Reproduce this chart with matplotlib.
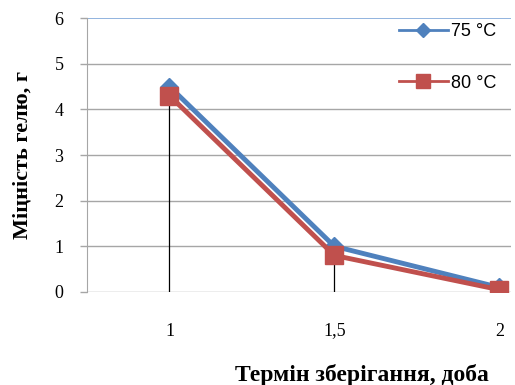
import matplotlib.pyplot as plt
import numpy as np

# data
categories = ["1", "1,5", "2"]
series_75 = [4.5, 1.0, 0.1]
series_80 = [4.3, 0.8, 0.05]
y_ticks = [0, 1, 2, 3, 4, 5, 6]

serif = "Liberation Serif"
sans = "Liberation Sans"

fig = plt.figure(figsize=(5.15, 3.85), dpi=100)
ax = fig.add_axes([0.169, 0.2416, 0.823, 0.7116])

x = np.arange(len(categories))

# horizontal grid, top one is blue like the plot border
for y in y_ticks[:-1]:
    ax.axhline(y, color="#a6a6a6", linewidth=1.0, zorder=1)
ax.axhline(y_ticks[-1], color="#7fa7d9", linewidth=1.2, zorder=1)

# drop lines from the highest point down to zero
tops = np.maximum(series_75, series_80)
ax.vlines(x, 0, tops, colors="black", linewidth=0.9, zorder=2)

ax.plot(x, series_75, color="#4f81bd", linewidth=3.5, marker="D",
        markersize=9, label="75 °C", zorder=3)
ax.plot(x, series_80, color="#c0504d", linewidth=3.5, marker="s",
        markersize=13, label="80 °C", zorder=4)

ax.set_xlim(-0.5, 2.07)
ax.set_ylim(0, 6)
ax.set_xticks(x)
ax.set_xticklabels(categories, fontfamily=serif, fontsize=13)
ax.set_yticks(y_ticks)
ax.set_yticklabels([str(v) for v in y_ticks], fontfamily=serif, fontsize=13)
ax.tick_params(axis="x", length=0, pad=22)
ax.tick_params(axis="y", length=5, width=1, color="#a6a6a6", pad=12)

for side in ["top", "right", "bottom"]:
    ax.spines[side].set_visible(False)
ax.spines["left"].set_color("#a6a6a6")

ax.set_ylabel("Міцність гелю, г", fontfamily=serif, fontsize=16,
              fontweight="bold", labelpad=16)
fig.text(362 / 515, 1 - 375 / 385, "Термін зберігання, доба",
         fontfamily=serif, fontsize=17, fontweight="bold",
         ha="center", va="center")

leg = ax.legend(loc="upper right", frameon=False, handlelength=2.7,
                labelspacing=1.9, handletextpad=0.2, markerscale=0.75,
                prop={"family": sans, "size": 13},
                bbox_to_anchor=(1.005, 1.04))
# thinner lines in the legend keys, like the original
for line in leg.get_lines():
    line.set_linewidth(2.0)

plt.savefig("out.png", dpi=100)
plt.close()
